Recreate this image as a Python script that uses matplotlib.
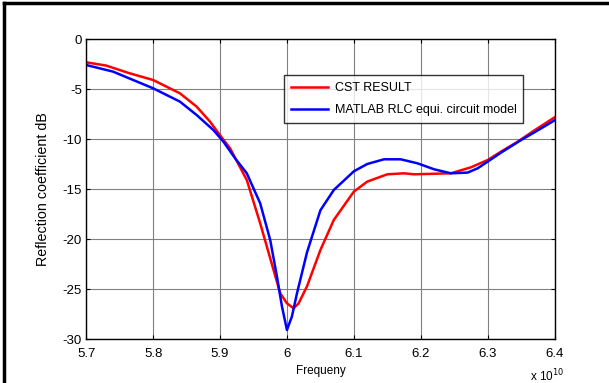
import matplotlib
matplotlib.use("Agg")
import matplotlib.pyplot as plt
from matplotlib.lines import Line2D

freq_cst = [5.70, 5.73, 5.765, 5.80, 5.84, 5.865, 5.885, 5.90, 5.915, 5.94, 5.96, 5.98, 5.99,
            6.00, 6.01, 6.0175, 6.03, 6.05, 6.07, 6.10, 6.12, 6.15, 6.175, 6.19, 6.245, 6.275,
            6.30, 6.32, 6.345, 6.37, 6.40]
s11_cst = [-2.3, -2.63, -3.4, -4.07, -5.4, -6.73, -8.23, -9.6, -10.9, -14.07, -18.4, -23.07, -25.4,
           -26.4, -26.9, -26.4, -24.7, -21.07, -18.07, -15.23, -14.23, -13.5, -13.4, -13.5, -13.4, -12.8,
           -12.07, -11.23, -10.23, -9.1, -7.8]

freq_rlc = [5.70, 5.74, 5.80, 5.84, 5.865, 5.89, 5.905, 5.9225, 5.94, 5.96, 5.975, 5.985, 5.9925,
            6.00, 6.0075, 6.015, 6.03, 6.05, 6.07, 6.10, 6.12, 6.145, 6.17, 6.195, 6.22, 6.245,
            6.27, 6.285, 6.30, 6.32, 6.35, 6.375, 6.40]
s11_rlc = [-2.57, -3.23, -4.9, -6.23, -7.57, -9.07, -10.23, -11.9, -13.4, -16.4, -20.07, -23.7, -26.7,
           -29.07, -27.7, -25.4, -21.3, -17.1, -15.07, -13.2, -12.47, -12.0, -12.0, -12.4, -13.0, -13.4,
           -13.33, -12.9, -12.23, -11.33, -10.07, -9.1, -8.1]

xticks = [5.7, 5.8, 5.9, 6.0, 6.1, 6.2, 6.3, 6.4]
xtick_labels = ["5.7", "5.8", "5.9", "6", "6.1", "6.2", "6.3", "6.4"]
yticks = [0, -5, -10, -15, -20, -25, -30]
ytick_labels = ["0", "-5", "-10", "-15", "-20", "-25", "-30"]

plt.rcParams['font.family'] = ['Liberation Sans', 'DejaVu Sans']

fig = plt.figure(figsize=(6.09, 3.83), dpi=100)
ax = fig.add_axes([86.2/609, 1 - 339.3/383, (554.6-86.2)/609, (339.3-39.3)/383])

ax.plot(freq_cst, s11_cst, color='#ff0000', lw=1.8, label='CST RESULT', solid_joinstyle='round')
ax.plot(freq_rlc, s11_rlc, color='#0000ff', lw=1.8, label='MATLAB RLC equi. circuit model',
        solid_joinstyle='round')

ax.set_xlim(5.7, 6.4)
ax.set_ylim(-30, 0)
ax.set_xticks(xticks)
ax.set_xticklabels(xtick_labels)
ax.set_yticks(yticks)
ax.set_yticklabels(ytick_labels)
ax.grid(True, color='#808080', lw=0.8)
ax.tick_params(direction='in', top=True, right=True, length=3, labelsize=9.5)
ax.tick_params(axis='x', pad=6)
ax.tick_params(axis='y', pad=3)
for s in ax.spines.values():
    s.set_linewidth(1.0)
ax.set_xlabel('Frequeny', fontsize=8.5, labelpad=4)
ax.set_ylabel('Reflection coefficient dB', fontsize=10.3)
ax.yaxis.set_label_coords((50.5 - 86.2) / 468.4, 0.5)

leg = ax.legend(loc='upper left', bbox_to_anchor=((284-86.2)/468.4, (339.3-75)/300),
                fontsize=9, frameon=True, fancybox=False, edgecolor='black',
                handlelength=3.0, borderpad=0.55, labelspacing=0.85, handletextpad=0.5,
                borderaxespad=0)
leg.get_frame().set_linewidth(1.0)

fig.text(530/609, 1 - 376/383, r'x 10$^{10}$', fontsize=8.5, va='center', ha='left')

# outer frame lines (top and left)
fig.add_artist(Line2D([4/609, 1], [1 - 3/383, 1 - 3/383], color='black', lw=2.5, transform=fig.transFigure))
fig.add_artist(Line2D([4/609, 4/609], [0, 1 - 3/383], color='black', lw=2.5, transform=fig.transFigure))

fig.savefig('out.png', dpi=100)
